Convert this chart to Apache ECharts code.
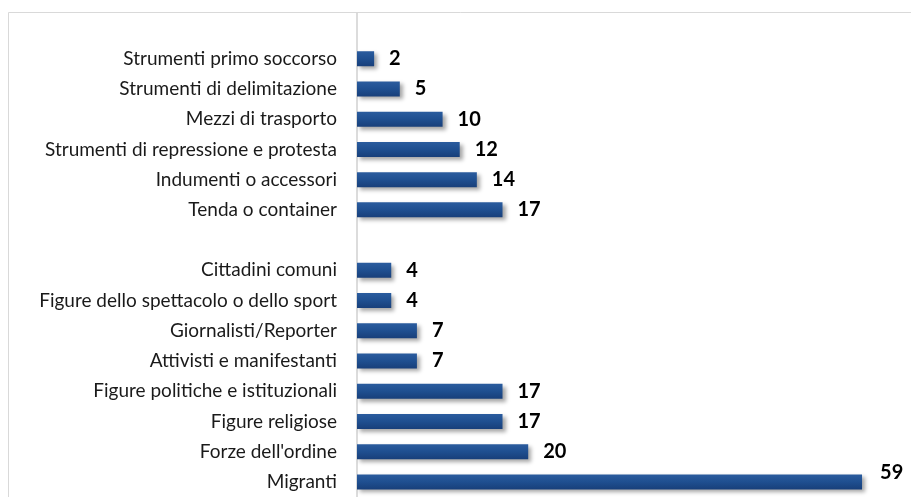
<!DOCTYPE html>
<html>
<head>
<meta charset="utf-8">
<script src="https://cdn.jsdelivr.net/npm/echarts@6/dist/echarts.min.js"></script>
<style>
  html, body { margin: 0; padding: 0; background: #fff; }
  #chart { width: 911px; height: 497px; }
</style>
</head>
<body>
<div id="chart"></div>
<script>
// Categories from top to bottom; blank entries separate the two groups
const categories = [
  ' ',
  'Strumenti primo soccorso',
  'Strumenti di delimitazione',
  'Mezzi di trasporto',
  'Strumenti di repressione e protesta',
  'Indumenti o accessori',
  'Tenda o container',
  '  ',
  'Cittadini comuni',
  'Figure dello spettacolo o dello sport',
  'Giornalisti/Reporter',
  'Attivisti e manifestanti',
  'Figure politiche e istituzionali',
  'Figure religiose',
  "Forze dell'ordine",
  'Migranti'
];
const values = [null, 2, 5, 10, 12, 14, 17, null, 4, 4, 7, 7, 17, 17, 20, 59];

const chart = echarts.init(document.getElementById('chart'));

const barColor = new echarts.graphic.LinearGradient(0, 0, 0, 1, [
  { offset: 0, color: '#2b5c9e' },
  { offset: 0.5, color: '#1f4f90' },
  { offset: 1, color: '#183f7a' }
]);

// The longest bar carries its label lifted slightly above the bar
const maxValue = Math.max(...values.filter(v => v !== null));
const seriesData = values.map(v => (v === maxValue
  ? { value: v, label: { offset: [0, -9], distance: 18 } }
  : v));

chart.setOption({
  animation: false,
  backgroundColor: '#ffffff',
  graphic: [{
    type: 'rect',
    shape: { x: 8.5, y: 12.5, width: 920, height: 500 },
    style: { fill: 'none', stroke: '#d9d9d9', lineWidth: 1 },
    silent: true
  }],
  grid: { left: 357, right: 40.4, top: 13.4, bottom: -3.2, containLabel: false },
  xAxis: {
    type: 'value',
    min: 0,
    max: 60,
    show: false
  },
  yAxis: {
    type: 'category',
    data: categories,
    inverse: true,
    axisLine: { show: true, lineStyle: { color: '#d0d0d0', width: 1.5 } },
    axisTick: { show: false },
    axisLabel: {
      margin: 20,
      color: '#1a1a1a',
      fontFamily: 'Lato',
      fontSize: 19
    }
  },
  series: [{
    type: 'bar',
    data: seriesData,
    barWidth: 15,
    itemStyle: {
      color: barColor,
      shadowColor: 'rgba(0,0,0,0.35)',
      shadowBlur: 4,
      shadowOffsetX: 3,
      shadowOffsetY: 3
    },
    label: {
      show: true,
      position: 'right',
      distance: 15,
      color: '#000',
      fontFamily: 'Lato',
      fontWeight: 'bold',
      fontSize: 20
    }
  }]
});
</script>
</body>
</html>
